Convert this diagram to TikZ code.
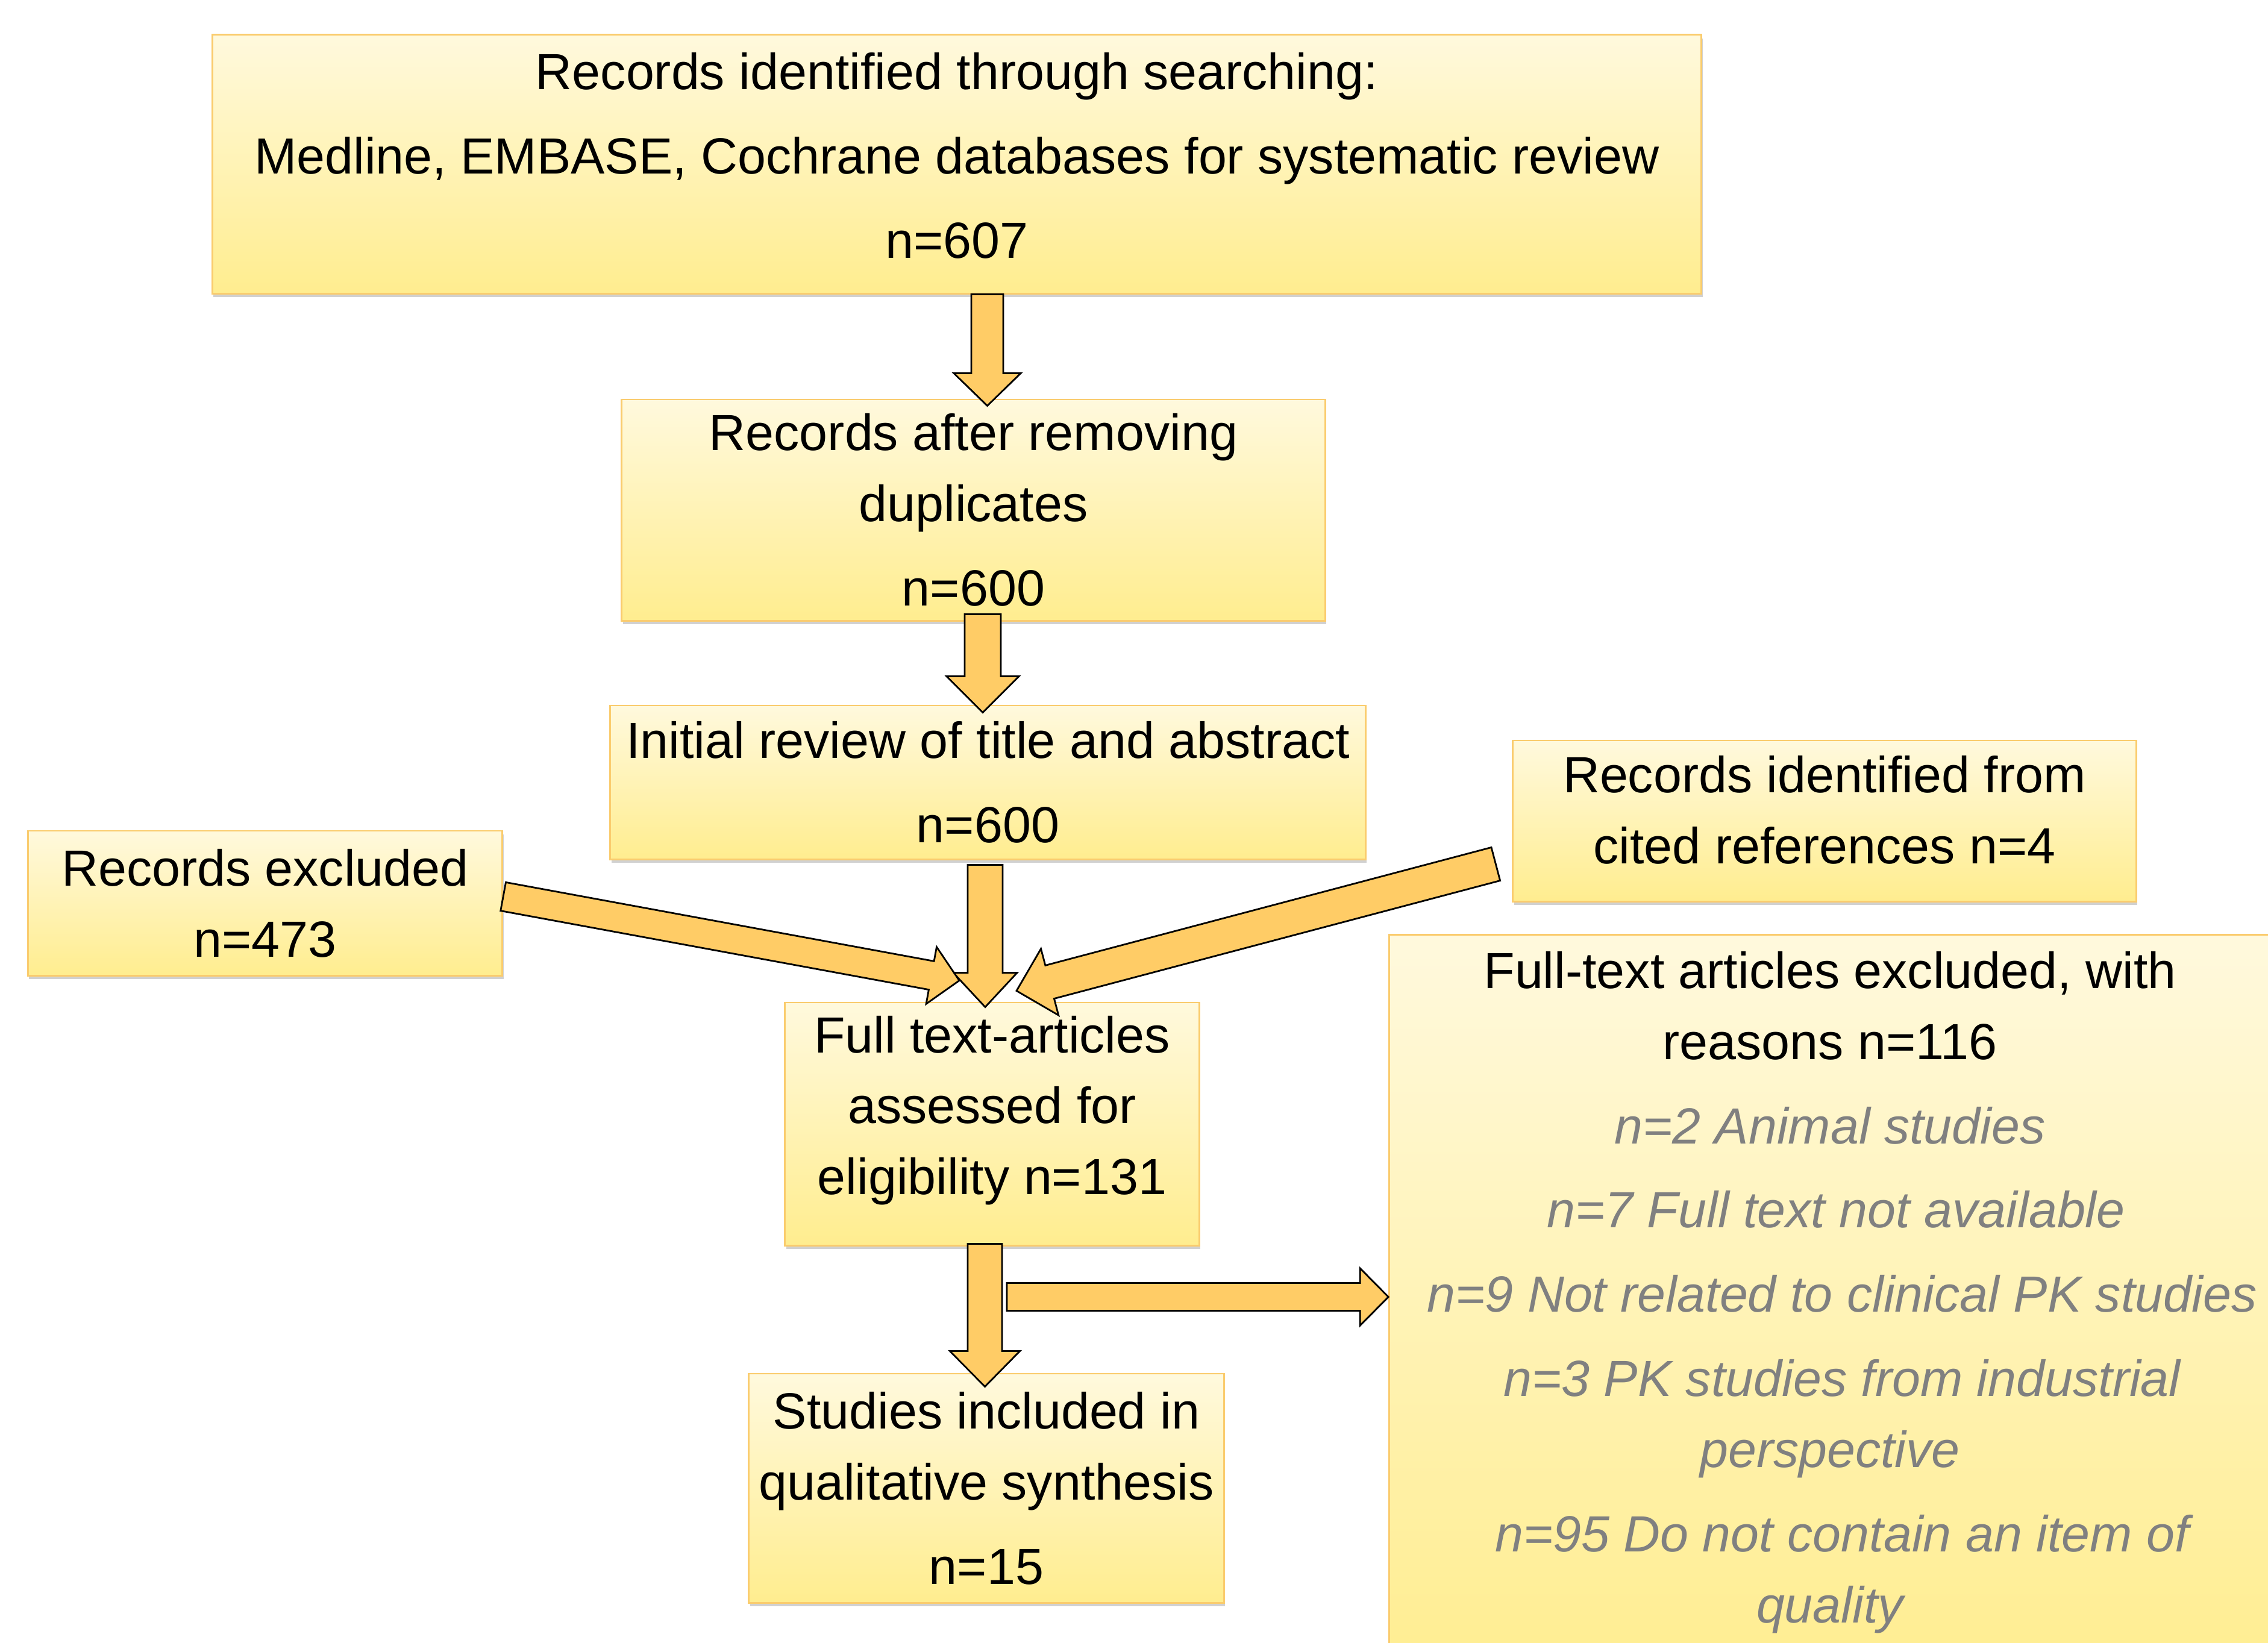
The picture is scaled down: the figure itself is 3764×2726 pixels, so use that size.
\documentclass[tikz,border=0pt]{standalone}
\usepackage{fontspec}
\setmainfont{Liberation Sans}
\usetikzlibrary{calc,shadows}
\definecolor{boxtop}{RGB}{255,249,221}
\definecolor{boxbot}{RGB}{255,237,143}
\definecolor{boxedge}{RGB}{250,204,110}
\definecolor{arrowfill}{RGB}{255,204,102}
\definecolor{reasongray}{RGB}{128,128,128}
\newcommand\mainsz{\fontsize{24pt}{33.5pt}\selectfont}
\newcommand\reasontxt{\color{reasongray}\itshape}
\newcommand\pgap{\\[6.3pt]}
% block arrow: from, to, shaft half width, head half width, head length
\newcommand\blockarrow[5]{%
  \coordinate (bah) at ($(#2)!#5!(#1)$);
  \draw[barrow]
    ($(#1)!#3!90:(#2)$) --
    ($(bah)!#3!90:(#2)$) --
    ($(bah)!#4!90:(#2)$) --
    (#2) --
    ($(bah)!#4!-90:(#2)$) --
    ($(bah)!#3!-90:(#2)$) --
    ($(#1)!#3!-90:(#2)$) -- cycle;
}
\tikzset{
  box/.style={rectangle, draw=boxedge, line width=0.8pt, top color=boxtop, bottom color=boxbot,
    drop shadow={shadow xshift=0.02cm, shadow yshift=-0.06cm, fill=black, opacity=0.18},
    inner sep=0pt, align=center, font=\mainsz},
  txt/.style={inner sep=0pt, align=center, font=\mainsz},
  barrow/.style={draw=black, line width=0.8pt, fill=arrowfill, line join=miter}
}
\begin{document}
\begin{tikzpicture}[x=0.01cm, y=-0.01cm]
\useasboundingbox (0,0) rectangle (3764,2726);
\fill[white] (0,0) rectangle (3764,2726);
\clip (0,0) rectangle (3764,2726);

% boxes
\node[box, minimum width=24.70cm, minimum height=4.29cm] (b1) at (1588,272.5) {};
\node[txt] (b1t) at (1588,258) {Records identified through searching:\pgap
  Medline, EMBASE, Cochrane databases for systematic review\pgap n=607};

\node[box, minimum width=11.67cm, minimum height=3.67cm] (b2) at (1615.5,846.5)
  {Records after removing\\ duplicates\pgap n=600};

\node[box, minimum width=12.53cm, minimum height=2.55cm] (b3) at (1639.5,1298.5)
  {Initial review of title and abstract\pgap n=600};

\node[box, minimum width=7.87cm, minimum height=2.40cm] (bex) at (440,1499)
  {Records excluded\\ n=473};

\node[box, minimum width=10.34cm, minimum height=2.67cm] (bcit) at (3028,1362.5) {};
\node[txt] (bcitt) at (3028,1344) {Records identified from\\ cited references n=4};

\node[box, minimum width=6.87cm, minimum height=4.03cm] (bft) at (1646.5,1865.5) {};
\node[txt] (bftt) at (1646.5,1843) {Full text-articles\\ assessed for\\ eligibility n=131};

\node[box, minimum width=7.88cm, minimum height=3.80cm] (bst) at (1637,2470)
  {Studies included in\\ qualitative synthesis\pgap n=15};

\node[box, minimum width=14.74cm, minimum height=12.48cm] (bright) at (3043,2176) {};
\node[txt] (brt) at (3037,2145) {Full-text articles excluded, with\\ reasons n=116\pgap
  {\reasontxt n=2 Animal studies}\pgap
  {\reasontxt\hspace{0.2cm}n=7 Full text not available}\pgap
  {\reasontxt\hspace{0.4cm}n=9 Not related to clinical PK studies}\pgap
  {\reasontxt\hspace{0.4cm}n=3 PK studies from industrial}\\ {\reasontxt perspective}\pgap
  {\reasontxt\hspace{0.4cm}n=95 Do not contain an item of}\\ {\reasontxt quality}};

% connector end points
\coordinate (a1s) at ($(b1.south)+(50.5,0)$);
\coordinate (a1e) at ($(b2.north)+(23,12)$);
\coordinate (a2s) at ($(b2.south)+(15.5,-12)$);
\coordinate (a2e) at ($(b3.north)+(-8.5,13)$);
\coordinate (a3s) at ($(b3.south)+(-4.5,8)$);
\coordinate (a3e) at ($(bft.north)+(-11.5,9)$);
\coordinate (a4s) at ($(bft.south)+(-12,-4)$);
\coordinate (a4e) at ($(bst.north)+(-2.5,23)$);
\coordinate (a5s) at ($(bft.south)+(24.5,84)$);
\coordinate (a5e) at (bright.west |- a5s);
\coordinate (a6s) at ($(bex.east)+(0,-11)$);
\coordinate (a6e) at ($(bft.north)+(-54.5,-35)$);
\coordinate (a7s) at ($(bcit.west)+(-27,71.5)$);
\coordinate (a7e) at ($(bft.north)+(40.5,-18)$);

% block arrows
\blockarrow{a1s}{a1e}{0.265cm}{0.555cm}{0.54cm}
\blockarrow{a2s}{a2e}{0.30cm}{0.60cm}{0.60cm}
\blockarrow{a3s}{a3e}{0.29cm}{0.53cm}{0.57cm}
\blockarrow{a4s}{a4e}{0.285cm}{0.58cm}{0.59cm}
\blockarrow{a5s}{a5e}{0.23cm}{0.475cm}{0.47cm}
\blockarrow{a6s}{a6e}{0.24cm}{0.48cm}{0.47cm}
\blockarrow{a7s}{a7e}{0.285cm}{0.57cm}{0.57cm}
\end{tikzpicture}
\end{document}
